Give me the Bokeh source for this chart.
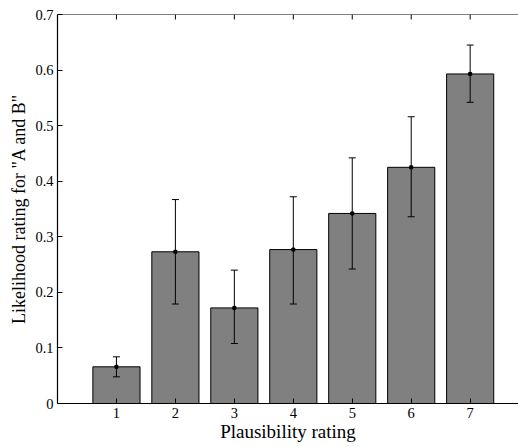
import math
from bokeh.plotting import figure
from bokeh.models import (FixedTicker, NumeralTickFormatter, Whisker,
                          ColumnDataSource, Range1d, TeeHead, Span)
from bokeh.embed import file_html
from bokeh.resources import INLINE

categories = [1, 2, 3, 4, 5, 6, 7]
means = [0.066, 0.273, 0.172, 0.277, 0.342, 0.425, 0.593]
lower = [0.048, 0.179, 0.108, 0.179, 0.242, 0.336, 0.542]
upper = [0.084, 0.367, 0.240, 0.372, 0.442, 0.516, 0.645]
y_ticks = [0, 0.1, 0.2, 0.3, 0.4, 0.5, 0.6, 0.7]

FONT = "Liberation Serif"
Y_MAX = 0.7

src = ColumnDataSource(dict(x=categories, mean=means, lower=lower, upper=upper,
                            top=[Y_MAX] * len(categories)))

p = figure(width=518, height=447, output_backend="svg", toolbar_location=None,
           x_range=Range1d(0, 7.82), y_range=Range1d(0, Y_MAX),
           min_border_left=57, min_border_right=0, min_border_top=14, min_border_bottom=44,
           x_axis_label="Plausibility rating", y_axis_label='Likelihood rating for "A and B"')
p.outline_line_color = None
p.xgrid.visible = False
p.ygrid.visible = False
p.background_fill_color = "white"
p.border_fill_color = "white"

p.vbar(x="x", top="mean", width=0.8, source=src, fill_color="#808080",
       line_color="black", line_width=1)

w = Whisker(base="x", upper="upper", lower="lower", source=src,
            line_color="black", line_width=1,
            upper_head=TeeHead(size=7, line_color="black", line_width=1),
            lower_head=TeeHead(size=7, line_color="black", line_width=1))
w.level = "overlay"
p.add_layout(w)

p.scatter(x="x", y="mean", source=src, marker="square", size=3, color="black")

# top border with inward ticks
p.add_layout(Span(location=Y_MAX, dimension="width", line_color="black", line_width=1.2))
p.ray(x="x", y="top", source=src, length=5, length_units="screen", angle=-math.pi / 2,
      line_color="black", line_width=1)

for ax in (p.xaxis[0], p.yaxis[0]):
    ax.major_tick_in = 5
    ax.major_tick_out = 0
    ax.minor_tick_line_color = None
    ax.axis_line_color = "black"
    ax.axis_line_width = 1.2
    ax.major_tick_line_color = "black"
    ax.major_label_text_font = FONT
    ax.major_label_text_font_size = "14.5px"
    ax.major_label_text_color = "black"
    ax.axis_label_text_font = FONT
    ax.axis_label_text_font_style = "normal"
    ax.axis_label_text_color = "black"

p.xaxis[0].ticker = FixedTicker(ticks=categories)
p.xaxis[0].major_label_standoff = 4
p.xaxis[0].axis_label_standoff = 0
p.xaxis[0].axis_label_text_font_size = "19px"
p.yaxis[0].ticker = FixedTicker(ticks=y_ticks)
p.yaxis[0].formatter = NumeralTickFormatter(format="0.[0]")
p.yaxis[0].major_label_standoff = 4
p.yaxis[0].axis_label_standoff = 3
p.yaxis[0].axis_label_text_font_size = "18px"

open("out.html", "w").write(file_html(p, INLINE))
